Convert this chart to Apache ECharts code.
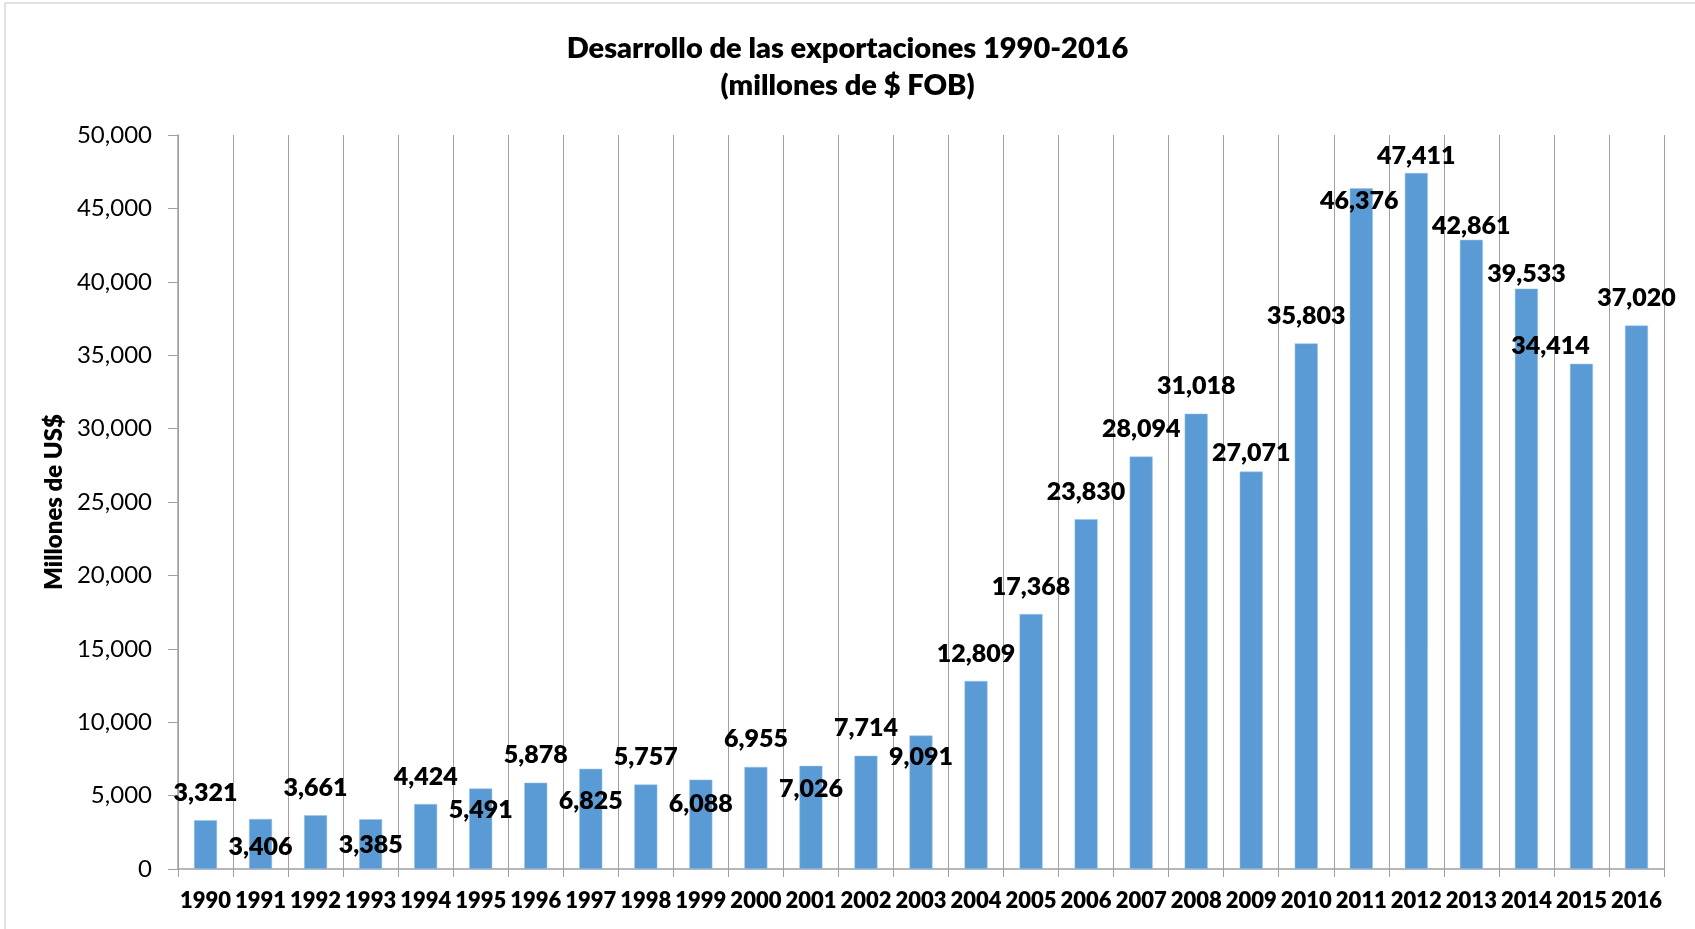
<!DOCTYPE html>
<html>
<head>
<meta charset="utf-8">
<script src="https://cdn.jsdelivr.net/npm/echarts@6/dist/echarts.min.js"></script>
<style>
html, body { margin: 0; padding: 0; background: #fff; }
#main { width: 1695px; height: 929px; }
</style>
</head>
<body>
<div id="main"></div>
<script>
// años y exportaciones (millones de US$ FOB)
var years = ['1990', '1991', '1992', '1993', '1994', '1995', '1996', '1997', '1998', '1999',
    '2000', '2001', '2002', '2003', '2004', '2005', '2006', '2007', '2008', '2009',
    '2010', '2011', '2012', '2013', '2014', '2015', '2016'];
var exports = [3321, 3406, 3661, 3385, 4424, 5491, 5878, 6825, 5757, 6088,
    6955, 7026, 7714, 9091, 12809, 17368, 23830, 28094, 31018, 27071,
    35803, 46376, 47411, 42861, 39533, 34414, 37020];

// desplazamiento de las etiquetas (como quedaron en la hoja de Excel)
var labelShift = [[0, -15], [0, 40], [0, -15], [0, 38], [0, -15], [0, 34], [0, -15], [0, 45], [0, -15], [0, 37],
    [0, -15], [0, 36], [0, -15], [0, 34], [0, -15], [0, -15], [0, -15], [0, -15], [0, -15], [0, -6],
    [0, -15], [-2, 25], [0, -5], [0, -1], [0, -2], [-31, -5], [0, -15]];

var fmt = function (v) {
    return String(v).replace(/\B(?=(\d{3})+(?!\d))/g, ',');
};

var font = 'Lato, "Open Sans", sans-serif';

var myChart = echarts.init(document.getElementById('main'));
var option = {
    animation : false,
    title : {
	text : 'Desarrollo de las exportaciones 1990-2016\n(millones de $ FOB)',
	left : 'center',
	top : 25,
	textStyle : {
	    fontFamily : font,
	    fontSize : 29,
	    fontWeight : 800,
	    color : '#000',
	    lineHeight : 37
	}
    },
    graphic : [ {
	type : 'rect',
	shape : { x : 5, y : 3, width : 1720, height : 960 },
	style : { fill : 'none', stroke : '#d9d9d9', lineWidth : 1.5 },
	silent : true
    } ],
    grid : {
	left : 178,
	right : 31,
	top : 135,
	bottom : 60
    },
    xAxis : [ {
	type : 'category',
	data : years,
	axisLine : { lineStyle : { color : '#a0a0a0', width : 1.5 } },
	axisTick : { show : true, interval : 0, length : 8, lineStyle : { color : '#a0a0a0' } },
	splitLine : { show : true, interval : 0, lineStyle : { color : '#a0a0a0', width : 1 } },
	axisLabel : {
	    interval : 0,
	    margin : 21,
	    fontFamily : font,
	    fontSize : 22,
	    fontWeight : 800,
	    color : '#000'
	}
    } ],
    yAxis : [ {
	type : 'value',
	min : 0,
	max : 50000,
	interval : 5000,
	name : 'Millones de US$',
	nameLocation : 'middle',
	nameGap : 108,
	nameTextStyle : {
	    fontFamily : font,
	    fontSize : 24,
	    fontWeight : 800,
	    color : '#000'
	},
	axisLine : { show : true, lineStyle : { color : '#a0a0a0', width : 1.5 } },
	axisTick : { show : true, length : 10, lineStyle : { color : '#a0a0a0' } },
	splitLine : { show : false },
	axisLabel : {
	    margin : 26,
	    fontFamily : font,
	    fontSize : 24,
	    color : '#000',
	    formatter : fmt
	}
    } ],
    series : [ {
	name : 'Exportaciones',
	type : 'bar',
	barWidth : 23,
	itemStyle : {
	    color : '#5B9BD5',
	    borderColor : '#9dc3e6',
	    borderWidth : 0.5
	},
	label : {
	    show : true,
	    position : 'top',
	    distance : 0,
	    fontFamily : font,
	    fontSize : 25,
	    fontWeight : 800,
	    color : '#000',
	    formatter : function (p) { return fmt(p.value); }
	},
	data : exports.map(function (v, i) {
	    return { value : v, label : { offset : labelShift[i] } };
	})
    } ]
};
myChart.setOption(option);

window.onresize = function() {
    myChart.resize();
};
</script>
</body>
</html>
